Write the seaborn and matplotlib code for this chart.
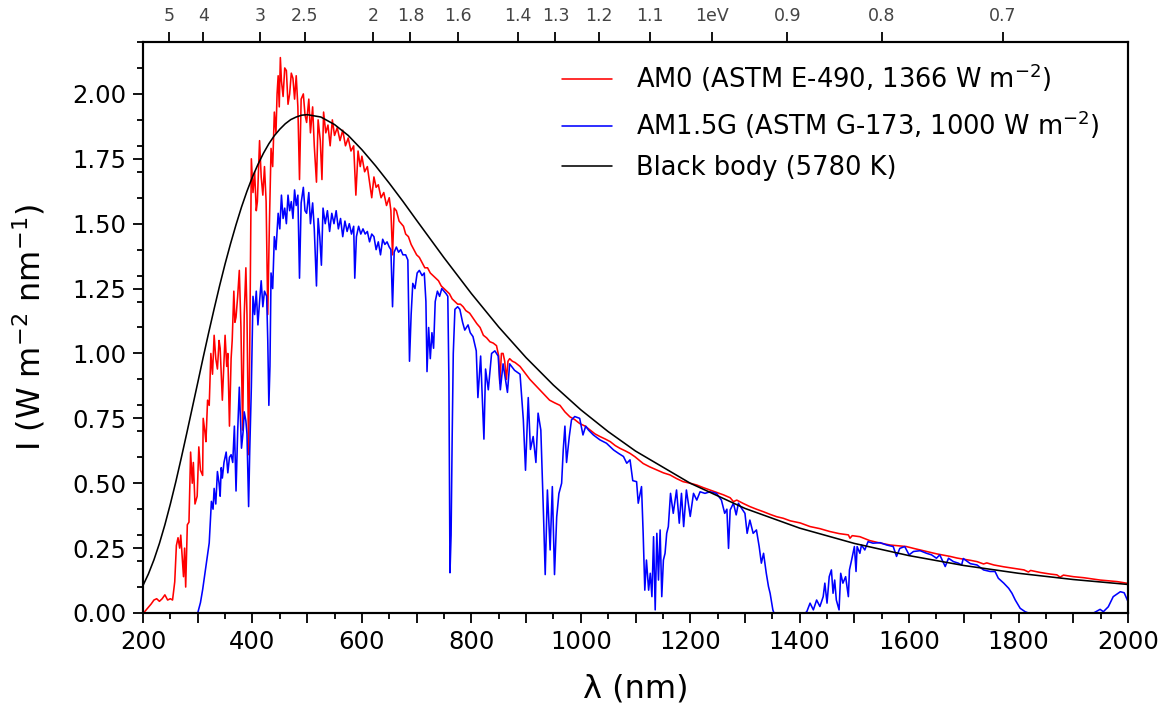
import numpy as np
import pandas as pd
import matplotlib
matplotlib.use("Agg")
import matplotlib.pyplot as plt
import seaborn as sns
from matplotlib.ticker import MultipleLocator, FuncFormatter, FixedLocator

# ---------------- data ----------------
am0_wl = [200, 203, 207, 211, 215, 220, 225, 230, 235, 240, 245, 250, 254, 258, 261, 264, 267, 269, 272, 274,
          276, 278, 281, 284, 287, 290, 292, 295, 299, 302, 305, 309, 310, 313, 315, 318, 321, 324, 327, 330,
          333, 336, 339, 341, 345, 348, 350, 353, 355, 358, 361, 363, 366, 368, 370, 373, 376, 379, 382, 385,
          388, 390, 393, 395, 398, 401, 404, 407, 409, 411, 413, 416, 419, 422, 425, 428, 431, 434, 437, 440,
          443, 445, 447, 449, 451, 453, 456, 459, 462, 465, 468, 471, 474, 477, 480, 483, 486, 489, 493, 496,
          499, 503, 506, 510, 513, 517, 520, 524, 527, 530, 534, 538, 542, 546, 550, 555, 560, 565, 570, 575,
          580, 585, 589, 593, 597, 600, 605, 610, 614, 618, 622, 626, 630, 635, 640, 645, 650, 653, 656, 659,
          663, 668, 672, 676, 680, 685, 690, 695, 700, 705, 710, 715, 720, 725, 730, 735, 740, 745, 750, 755,
          760, 765, 770, 775, 780, 785, 790, 797, 805, 810, 816, 822, 828, 834, 840, 846, 850, 852, 855, 858,
          861, 864, 867, 870, 875, 880, 889, 898, 907, 916, 925, 934, 943, 952, 962, 971, 980, 989, 998, 1008,
          1017, 1026, 1035, 1045, 1054, 1063, 1072, 1081, 1090, 1099, 1114, 1126, 1139, 1151, 1163, 1175, 1187,
          1200, 1212, 1224, 1236, 1248, 1261, 1273, 1279, 1285, 1297, 1309, 1321, 1334, 1346, 1358, 1370, 1383,
          1401, 1419, 1437, 1455, 1472, 1489, 1492, 1496, 1510, 1528, 1546, 1565, 1580, 1595, 1610, 1626, 1638,
          1650, 1662, 1675, 1687, 1700, 1712, 1724, 1736, 1742, 1755, 1773, 1785, 1797, 1810, 1818, 1822, 1840,
          1858, 1870, 1876, 1882, 1900, 1919, 1935, 1949, 1965, 1980, 2000]
am0_val = [0.00, 0.005, 0.015, 0.025, 0.035, 0.05, 0.055, 0.045, 0.055, 0.07, 0.05, 0.055, 0.05, 0.12, 0.26, 0.29, 0.25, 0.30, 0.20, 0.14,
           0.25, 0.10, 0.34, 0.35, 0.62, 0.50, 0.58, 0.42, 0.45, 0.64, 0.55, 0.53, 0.75, 0.70, 0.66, 0.82, 0.80, 1.00, 0.92, 1.07,
           0.98, 0.94, 1.05, 1.02, 0.82, 0.97, 1.07, 0.95, 1.00, 0.72, 0.98, 1.05, 1.24, 1.12, 1.14, 1.22, 1.32, 1.10, 0.705, 1.15,
           1.33, 1.15, 0.61, 1.00, 1.75, 1.62, 1.70, 1.55, 1.585, 1.70, 1.82, 1.68, 1.61, 1.72, 1.585, 1.15, 1.50, 1.79, 1.72, 1.93,
           1.85, 2.00, 2.07, 1.95, 2.14, 2.05, 1.99, 2.10, 2.09, 1.96, 2.00, 2.08, 2.06, 1.98, 2.07, 1.95, 1.67, 1.98, 2.00, 1.92,
           1.89, 1.98, 1.85, 1.95, 1.80, 1.66, 1.90, 1.82, 1.67, 1.93, 1.85, 1.88, 1.80, 1.90, 1.84, 1.87, 1.82, 1.86, 1.80, 1.83,
           1.78, 1.80, 1.61, 1.78, 1.72, 1.76, 1.70, 1.72, 1.66, 1.60, 1.68, 1.64, 1.65, 1.60, 1.62, 1.57, 1.60, 1.55, 1.38, 1.56,
           1.55, 1.51, 1.50, 1.49, 1.46, 1.45, 1.42, 1.40, 1.38, 1.37, 1.35, 1.33, 1.33, 1.31, 1.30, 1.29, 1.28, 1.26, 1.25, 1.24,
           1.23, 1.21, 1.20, 1.19, 1.19, 1.18, 1.165, 1.155, 1.13, 1.115, 1.10, 1.07, 1.06, 1.045, 1.04, 1.03, 0.99, 0.885, 1.00, 1.00,
           0.97, 0.90, 0.97, 0.98, 0.97, 0.965, 0.95, 0.925, 0.90, 0.88, 0.86, 0.84, 0.82, 0.81, 0.80, 0.775, 0.756, 0.745, 0.73, 0.72,
           0.705, 0.69, 0.68, 0.67, 0.66, 0.645, 0.634, 0.625, 0.615, 0.602, 0.576, 0.563, 0.551, 0.54, 0.532, 0.518, 0.506,
           0.50, 0.493, 0.483, 0.474, 0.465, 0.455, 0.444, 0.429, 0.435, 0.422, 0.41, 0.40, 0.39, 0.38, 0.371, 0.365, 0.355,
           0.347, 0.333, 0.325, 0.314, 0.306, 0.301, 0.288, 0.298, 0.294, 0.279, 0.27, 0.262, 0.259, 0.256, 0.248, 0.24, 0.234,
           0.228, 0.223, 0.218, 0.212, 0.207, 0.203, 0.198, 0.189, 0.193, 0.185, 0.178, 0.174, 0.17, 0.166, 0.158, 0.164, 0.156,
           0.15, 0.147, 0.138, 0.146, 0.14, 0.136, 0.131, 0.127, 0.124, 0.121, 0.114]

am15_wl = [300, 305, 309, 313, 317, 321, 325, 328, 330, 333, 336, 339, 341, 343, 345, 348, 352, 355, 358, 361,
           364, 367, 370, 373, 376, 378, 380, 383, 385, 388, 390, 393, 395, 398, 401, 404, 407, 410, 413, 416,
           419, 422, 426, 428, 430, 432, 434, 437, 440, 443, 447, 450, 453, 456, 459, 462, 465, 468, 471, 474,
           477, 480, 483, 486, 489, 493, 496, 499, 503, 506, 510, 513, 517, 520, 523, 526, 529, 533, 537, 541,
           545, 549, 553, 557, 561, 565, 569, 573, 577, 581, 585, 587, 590, 594, 598, 602, 606, 610, 614, 618,
           622, 626, 630, 634, 638, 642, 646, 650, 653, 656, 659, 663, 667, 671, 675, 680, 684, 687, 690, 693,
           697, 701, 705, 710, 714, 717, 719, 722, 725, 728, 731, 734, 738, 742, 746, 750, 754, 757, 759, 761,
           763, 765, 767, 770, 775, 779, 784, 788, 794, 798, 803, 809, 812, 817, 820, 823, 826, 831, 837, 843,
           849, 853, 858, 866, 870, 879, 889, 895, 899, 904, 908, 913, 918, 922, 927, 932, 935, 939, 944, 948,
           952, 956, 960, 965, 968, 971, 974, 979, 983, 989, 998, 1004, 1009, 1014, 1023, 1035, 1047, 1060, 1069, 1078,
           1084, 1090, 1095, 1102, 1105, 1111, 1114, 1117, 1120, 1124, 1127, 1130, 1133, 1136, 1139, 1142, 1145, 1148, 1151, 1154,
           1157, 1160, 1164, 1169, 1175, 1180, 1184, 1188, 1193, 1200, 1206, 1212, 1218, 1227, 1236, 1248, 1257, 1263, 1267, 1270,
           1273, 1279, 1284, 1288, 1294, 1300, 1304, 1309, 1315, 1321, 1326, 1330, 1334, 1339, 1343, 1346, 1351, 1353, 1410, 1413,
           1419, 1425, 1431, 1437, 1443, 1446, 1450, 1454, 1458, 1461, 1464, 1467, 1472, 1475, 1479, 1484, 1489, 1491, 1495, 1500,
           1503, 1505, 1510, 1513, 1519, 1525, 1534, 1547, 1559, 1571, 1577, 1583, 1592, 1600, 1608, 1620, 1632, 1641, 1650, 1656,
           1666, 1672, 1681, 1690, 1696, 1699, 1712, 1724, 1736, 1748, 1757, 1763, 1773, 1782, 1788, 1794, 1803, 1812, 1818, 1937,
           1949, 1955, 1964, 1973, 1986, 1993, 2000]
am15_val = [0.0, 0.04, 0.09, 0.15, 0.21, 0.27, 0.43, 0.40, 0.48, 0.42, 0.545, 0.50, 0.45, 0.56, 0.52, 0.58, 0.62, 0.54, 0.60, 0.61,
            0.58, 0.72, 0.47, 0.70, 0.87, 0.75, 0.635, 0.70, 0.775, 0.74, 0.69, 0.41, 0.62, 0.87, 1.22, 1.15, 1.24, 1.11, 1.20, 1.28,
            1.18, 1.24, 1.22, 1.05, 0.80, 0.95, 1.31, 1.25, 1.45, 1.40, 1.54, 1.48, 1.61, 1.52, 1.56, 1.50, 1.61, 1.55, 1.585, 1.52,
            1.63, 1.57, 1.61, 1.29, 1.58, 1.64, 1.55, 1.54, 1.62, 1.50, 1.58, 1.48, 1.26, 1.52, 1.45, 1.34, 1.56, 1.50, 1.55, 1.47,
            1.54, 1.50, 1.55, 1.48, 1.52, 1.45, 1.51, 1.47, 1.50, 1.46, 1.49, 1.29, 1.45, 1.49, 1.46, 1.48, 1.46, 1.47, 1.43, 1.46,
            1.45, 1.40, 1.43, 1.38, 1.44, 1.42, 1.43, 1.41, 1.40, 1.18, 1.39, 1.41, 1.39, 1.40, 1.38, 1.38, 1.36, 0.97, 1.15, 1.27,
            1.25, 1.31, 1.32, 1.30, 1.31, 1.20, 0.93, 1.10, 0.98, 1.08, 1.02, 1.20, 1.24, 1.22, 1.25, 1.24, 1.23, 1.22, 0.90, 0.155,
            0.30, 0.68, 1.00, 1.17, 1.18, 1.17, 1.12, 1.09, 1.11, 1.08, 1.065, 1.01, 0.83, 0.99, 0.83, 0.67, 0.94, 0.86, 1.00, 1.01,
            0.99, 0.86, 0.96, 0.85, 0.96, 0.935, 0.92, 0.745, 0.55, 0.83, 0.63, 0.68, 0.58, 0.77, 0.705, 0.37, 0.148, 0.474, 0.243, 0.487,
            0.148, 0.37, 0.46, 0.50, 0.63, 0.72, 0.58, 0.68, 0.744, 0.757, 0.75, 0.686, 0.72, 0.705, 0.686, 0.667, 0.654, 0.628, 0.615, 0.603,
            0.577, 0.59, 0.51, 0.506, 0.423, 0.487, 0.307, 0.088, 0.204, 0.088, 0.153, 0.063, 0.294, 0.012, 0.307, 0.127, 0.32, 0.063, 0.204, 0.23,
            0.307, 0.333, 0.461, 0.384, 0.474, 0.346, 0.461, 0.333, 0.474, 0.372, 0.461, 0.435, 0.467, 0.461, 0.467, 0.461, 0.435, 0.384, 0.40, 0.249,
            0.397, 0.423, 0.378, 0.423, 0.403, 0.384, 0.307, 0.358, 0.307, 0.32, 0.256, 0.192, 0.23, 0.153, 0.102, 0.076, 0.012, 0.0, 0.0, 0.005,
            0.038, 0.012, 0.05, 0.025, 0.063, 0.115, 0.038, 0.14, 0.166, 0.076, 0.127, 0.05, 0.012, 0.153, 0.115, 0.14, 0.063, 0.166, 0.205, 0.256,
            0.16, 0.256, 0.23, 0.262, 0.243, 0.275, 0.269, 0.271, 0.262, 0.256, 0.218, 0.249, 0.256, 0.224, 0.237, 0.24, 0.23, 0.224, 0.211, 0.224,
            0.179, 0.211, 0.198, 0.192, 0.185, 0.21, 0.19, 0.185, 0.166, 0.16, 0.16, 0.134, 0.115, 0.095, 0.076, 0.05, 0.018, 0.005, 0.0, 0.0,
            0.014, 0.005, 0.024, 0.063, 0.082, 0.078, 0.044]

bb_wl = [200, 210, 220, 230, 240, 250, 260, 270, 280, 290, 300, 310, 320, 330, 340, 350, 360, 370, 380, 390,
         400, 410, 420, 430, 440, 450, 460, 470, 480, 490, 500, 525, 550, 575, 600, 625, 650, 675, 700, 750,
         800, 850, 900, 950, 1000, 1050, 1100, 1200, 1300, 1400, 1500, 1600, 1700, 1800, 1900, 2000]
bb_val = [0.106, 0.151, 0.205, 0.268, 0.340, 0.420, 0.506, 0.598, 0.693, 0.790, 0.887, 0.985, 1.080, 1.172, 1.261, 1.345, 1.423, 1.496, 1.564, 1.625,
          1.680, 1.728, 1.771, 1.808, 1.839, 1.864, 1.885, 1.901, 1.911, 1.918, 1.920, 1.911, 1.882, 1.840, 1.785, 1.723, 1.656, 1.586, 1.513, 1.369,
          1.231, 1.102, 0.984, 0.878, 0.783, 0.699, 0.624, 0.500, 0.403, 0.327, 0.268, 0.221, 0.183, 0.153, 0.129, 0.110]

series_labels = ["AM0 (ASTM E-490, 1366 W m$^{-2}$)",
                 "AM1.5G (ASTM G-173, 1000 W m$^{-2}$)",
                 "Black body (5780 K)"]
series_colors = ["red", "blue", "black"]

energy_ticks = [5, 4, 3, 2.5, 2, 1.8, 1.6, 1.4, 1.3, 1.2, 1.1, 1, 0.9, 0.8, 0.7]
energy_labels = ["5", "4", "3", "2.5", "2", "1.8", "1.6", "1.4", "1.3", "1.2", "1.1", "1eV", "0.9", "0.8", "0.7"]

# ---------------- plotting ----------------
sns.set_style("ticks")
plt.rcParams['font.family'] = ['DejaVu Sans']
plt.rcParams.update({"text.color": "black", "axes.labelcolor": "black",
                     "xtick.color": "black", "ytick.color": "black",
                     "axes.edgecolor": "black"})

fig = plt.figure(figsize=(11.69, 7.06), dpi=100)
ax = fig.add_axes([143 / 1169, 1 - 613 / 706, (1128 - 143) / 1169, (613 - 42) / 706])

frames = [pd.DataFrame({"wl": am0_wl, "I": am0_val}),
          pd.DataFrame({"wl": am15_wl, "I": am15_val}),
          pd.DataFrame({"wl": bb_wl, "I": bb_val})]
for df, lab, col in zip(frames, series_labels, series_colors):
    sns.lineplot(data=df, x="wl", y="I", ax=ax, color=col, linewidth=1.15,
                 label=lab, estimator=None, sort=False)

ax.set_xlim(200, 2000)
ax.set_ylim(0, 2.2)
ax.xaxis.set_major_locator(MultipleLocator(100))
ax.xaxis.set_minor_locator(MultipleLocator(50))
ax.xaxis.set_major_formatter(FuncFormatter(lambda v, p: f"{int(round(v))}" if int(round(v)) % 200 == 0 else ""))
ax.yaxis.set_major_locator(MultipleLocator(0.25))
ax.yaxis.set_minor_locator(MultipleLocator(0.1))
ax.yaxis.set_major_formatter(FuncFormatter(lambda v, p: f"{v:.2f}"))

ax.tick_params(which="major", direction="out", length=7, width=1.3, labelsize=17.5, pad=5,
               colors="black")
ax.tick_params(which="minor", direction="out", length=4, width=1.3, colors="black")
for s in ax.spines.values():
    s.set_linewidth(1.5)
    s.set_visible(True)
    s.set_color("black")

ax.set_xlabel("λ (nm)", fontsize=23, labelpad=14)
ax.set_ylabel("I (W m$^{-2}$ nm$^{-1}$)", fontsize=23, labelpad=18)

# top energy axis
ax2 = ax.twiny()
ax2.set_xlim(ax.get_xlim())
ax2.xaxis.set_major_locator(FixedLocator([1239.84 / e for e in energy_ticks]))
ax2.set_xticklabels(energy_labels)
ax2.xaxis.set_minor_locator(FixedLocator([]))
ax2.tick_params(axis="x", direction="out", length=7, width=1.3, labelsize=12.5,
                color="black", labelcolor="#444444", pad=5)
for s in ax2.spines.values():
    s.set_linewidth(1.5)
    s.set_color("black")

leg = ax.legend(loc="upper right", bbox_to_anchor=(1.0, 1.015), frameon=False, fontsize=18.5,
                handlelength=1.95, handletextpad=0.93, labelspacing=0.55, borderaxespad=0.7)

fig.savefig("out.png", dpi=100)
